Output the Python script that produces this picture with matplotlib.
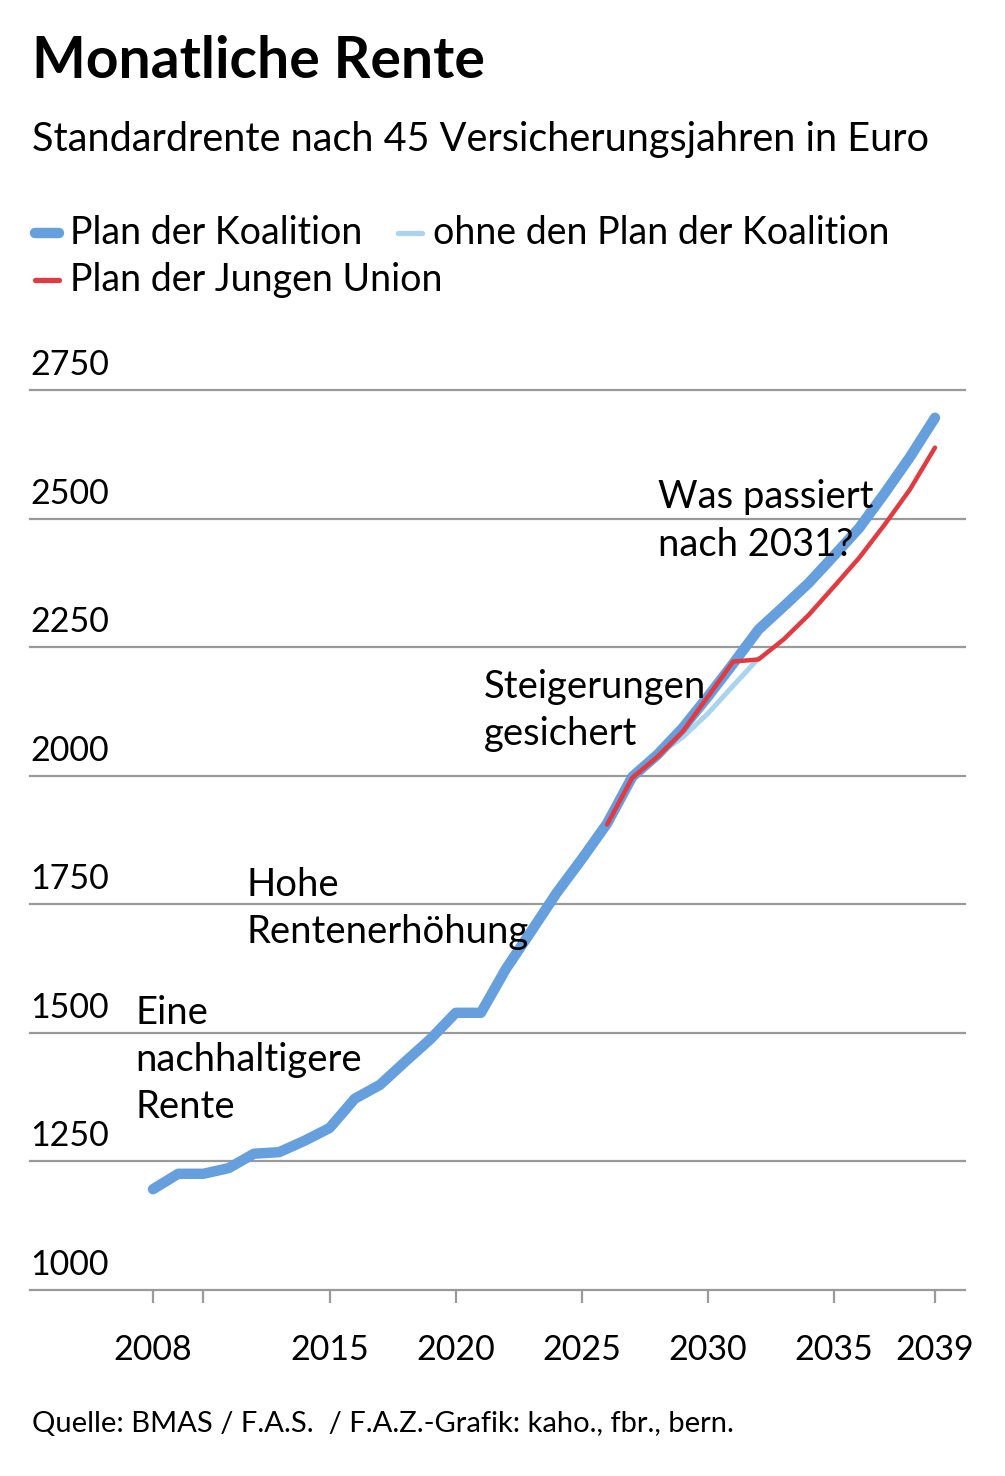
import matplotlib
matplotlib.use("Agg")
import matplotlib.pyplot as plt
from matplotlib.lines import Line2D
from matplotlib.transforms import blended_transform_factory

plt.rcParams['font.family'] = ['Lato', 'DejaVu Sans']

# data
years_koalition = list(range(2008, 2040))
rente_koalition = [1196, 1226, 1226, 1237, 1265, 1268, 1290, 1315, 1372, 1399,
                   1444, 1488, 1539, 1539, 1625, 1698, 1772, 1838, 1907, 1998,
                   2041, 2093, 2154, 2218, 2284, 2329, 2375, 2428, 2482, 2549,
                   2619, 2696]

years_ohne = [2028, 2029, 2030, 2031, 2032]
rente_ohne = [2041, 2075, 2121, 2175, 2228]

years_ju = list(range(2026, 2040))
rente_ju = [1905, 1996, 2037, 2086, 2154, 2222, 2226, 2265, 2313, 2368,
            2424, 2488, 2556, 2638]

y_ticks = [1000, 1250, 1500, 1750, 2000, 2250, 2500, 2750]
x_ticks = [2008, 2010, 2015, 2020, 2025, 2030, 2035, 2039]
x_labels = ['2008', '', '2015', '2020', '2025', '2030', '2035', '2039']

annotations = [
    (2007.3, 1574, "Eine\nnachhaltigere\nRente"),
    (2011.7, 1822, "Hohe\nRentenerhöhung"),
    (2021.1, 2207, "Steigerungen\ngesichert"),
    (2028.0, 2576, "Was passiert\nnach 2031?"),
]

c_blue = '#659fdd'
c_light = '#a9d3ef'
c_red = '#e23a40'
c_grid = '#9a9a9a'

W, H = 1005, 1476
fig = plt.figure(figsize=(W / 100, H / 100), dpi=100)
ax = fig.add_axes([30 / W, (H - 1290) / H, 935 / W, 900 / H])
ax.set_xlim(2003.124, 2040.19)
ax.set_ylim(1000, 2750)
for s in ax.spines.values():
    s.set_visible(False)

for v in y_ticks:
    ax.axhline(v, color=c_grid, lw=1.6, zorder=1, clip_on=False)
tr = blended_transform_factory(ax.transAxes, ax.transData)
for v in y_ticks:
    ax.annotate(str(v), xy=(0, v), xycoords=tr, xytext=(0, 6.5),
                textcoords='offset points', fontsize=24.5, va='bottom', ha='left')
ax.set_yticks([])

ax.set_xticks(x_ticks)
ax.set_xticklabels(x_labels, fontsize=24.5)
ax.tick_params(axis='x', length=9.5, width=1.6, color=c_grid, pad=22)

ax.plot(years_ohne, rente_ohne, color=c_light, lw=3.6, solid_capstyle='round', zorder=2)
ax.plot(years_koalition, rente_koalition, color=c_blue, lw=7.5,
        solid_capstyle='round', solid_joinstyle='round', zorder=3)
ax.plot(years_ju, rente_ju, color=c_red, lw=3.2, solid_capstyle='round', zorder=4)

for x, y, t in annotations:
    ax.text(x, y, t, fontsize=27.5, va='top', ha='left', linespacing=1.38, zorder=5)

fig.text(32 / W, 1 - 62 / H, "Monatliche Rente", fontsize=41, fontweight='bold',
         va='center', ha='left')
fig.text(32 / W, 1 - 140 / H, "Standardrente nach 45 Versicherungsjahren in Euro",
         fontsize=28.5, va='center', ha='left')

# legend, drawn by hand so the second row keeps the reference layout
legend_items = [
    (32, 233, c_blue, 7.5, "Plan der Koalition"),
    (395, 233, c_light, 3.8, "ohne den Plan der Koalition"),
    (32, 280, c_red, 3.8, "Plan der Jungen Union"),
]
for x0, yy, col, lw, lab in legend_items:
    fig.add_artist(Line2D([(x0 + 3) / W, (x0 + 27) / W], [1 - yy / H, 1 - yy / H],
                          transform=fig.transFigure, color=col, lw=lw,
                          solid_capstyle='round'))
    fig.text((x0 + 38) / W, 1 - yy / H, lab, fontsize=27, va='center', ha='left')

fig.text(32 / W, 1 - 1424 / H, "Quelle: BMAS / F.A.S.  / F.A.Z.-Grafik: kaho., fbr., bern.",
         fontsize=21, va='center', ha='left')

fig.savefig("out.png", dpi=100)
